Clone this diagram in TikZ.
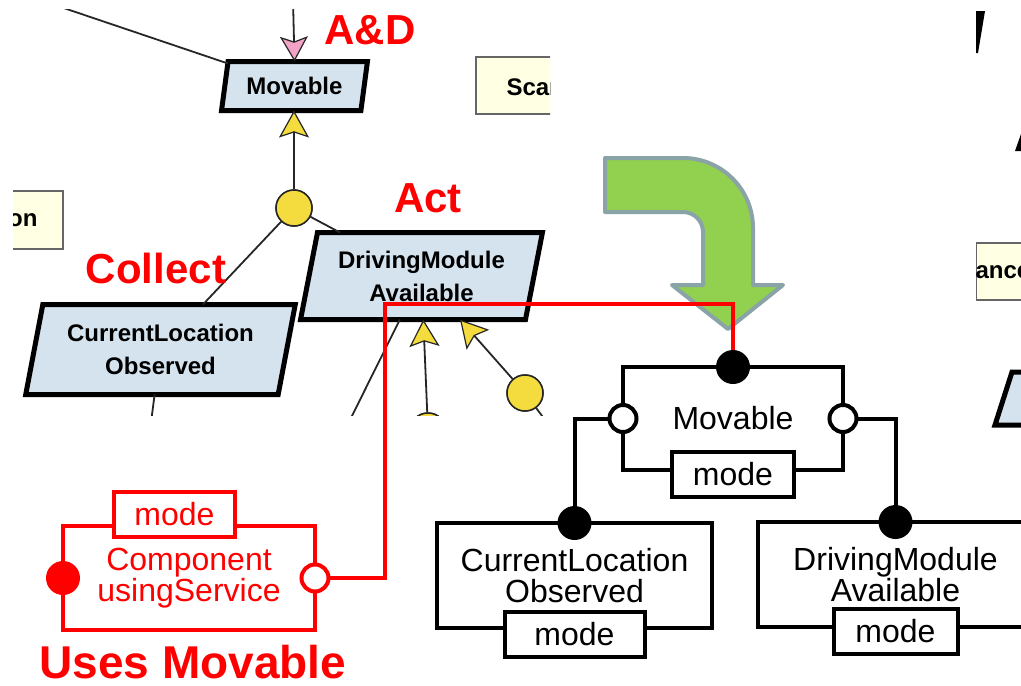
\documentclass[tikz,border=0pt]{standalone}
\usepackage{fontspec}
\setmainfont{Liberation Sans}
\usetikzlibrary{positioning,shapes.geometric,arrows.meta}
\definecolor{pblue}{HTML}{D5E3EE}
\definecolor{ylw}{HTML}{F4DC3F}
\definecolor{pnk}{HTML}{F4A3C6}
\definecolor{lyel}{HTML}{FFFFE3}
\definecolor{grn}{HTML}{92D050}
\definecolor{grnline}{HTML}{8AA3A6}
\begin{document}
\begin{tikzpicture}[x=1pt,y=-1pt,node distance=20pt]
\tikzstyle{para}=[trapezium,trapezium left angle=75,trapezium right angle=105,trapezium stretches=true,
  draw=black,line width=5pt,fill=pblue,align=center,inner sep=0pt,outer sep=0pt,
  font=\bfseries\fontsize{24}{33}\selectfont]
\tikzstyle{ball}=[circle,draw=black!85,line width=1.5pt,fill=ylw,minimum size=36pt,inner sep=0pt]
\tikzstyle{shot}=[draw=black!85,line width=1.8pt]
\tikzstyle{yarrow}=[-{Stealth[length=27pt,width=30pt,inset=5pt,fill=ylw,line width=1.2pt]}]
\tikzstyle{notebox}=[draw=black!60,line width=2pt,fill=lyel]
\tikzstyle{shottext}=[font=\bfseries\fontsize{24}{24}\selectfont]
\tikzstyle{note}=[text=red,font=\bfseries\fontsize{42}{42}\selectfont]
\tikzstyle{comp}=[draw,line width=4pt,align=center,inner sep=0pt,outer sep=0pt,font=\fontsize{32}{31}\selectfont]
\tikzstyle{modebox}=[draw,fill=white,line width=4pt,minimum height=45pt,inner sep=0pt,outer sep=0pt,font=\fontsize{32}{32}\selectfont]
\tikzstyle{plug}=[circle,fill,inner sep=0pt,minimum size=34pt]
\tikzstyle{socket}=[circle,draw,fill=white,line width=4pt,inner sep=0pt,minimum size=27pt]
\tikzstyle{wire}=[line width=4pt]
\useasboundingbox (0,0) rectangle (1021,686);

% screenshot on the left
\begin{scope}
\clip (13,9) rectangle (550,415);
\draw[notebox] (-20,191) rectangle (63,249);
\node[shottext,anchor=east] (on) at (41,220) {on};
\draw[notebox] (476,57) rectangle (600,114);
\node[shottext,anchor=west] (scan) at (503,87) {Scan};
\node[para,minimum width=146pt,minimum height=49pt] (movA) at (294.5,86) {Movable};
\node[para,minimum width=242pt,minimum height=87pt] (dmA) at (421.5,276) {DrivingModule\\Available};
\node[para,minimum width=270pt,minimum height=90pt] (clA) at (160.5,349.5) {CurrentLocation\\Observed};
\node[ball] (ballA) at (294,208) {};
\node[ball] (ballB) at (525,393) {};
\node[ball] (ballC) at (428,431) {};
\coordinate (tl) at (40,0);
\coordinate (top) at (293,0);
\coordinate (cllo) at (150,430);
\coordinate (dmlo) at (345,430);
\coordinate (blo) at (560,440);
\draw[shot] (tl) -- (movA);
\draw[shot,-{Stealth[length=25pt,width=28pt,inset=5pt,fill=pnk,line width=1.2pt]}] (top) -- (movA.north);
\draw[shot,yarrow] (ballA) -- (ballA |- movA.south);
\draw[shot] (ballA) -- (clA);
\draw[shot] (ballA) -- (dmA);
\draw[shot] (clA) -- (cllo);
\draw[shot] (dmA) -- (dmlo);
\draw[shot,yarrow] (ballC) -- (dmA);
\draw[shot,yarrow] (ballB) -- (dmA);
\draw[shot] (ballB) -- (blo);
\node[ball] at (ballA) {};
\node[ball] at (ballB) {};
\node[ball] at (ballC) {};
\end{scope}

% pieces on the right
\begin{scope}
\clip (976,0) rectangle (1021,440);
\fill (976,11) -- (985,11) -- (978,53) -- (976,53) -- cycle;
\fill (1015,151) -- (1021,134) -- (1021,151) -- cycle;
\draw[notebox] (976,243) rectangle (1100,300);
\node[shottext,anchor=west] (ance) at (972,272) {ance};
\draw[line width=5pt,fill=pblue] (995,425) -- (1012,372) -- (1100,372) -- (1083,425) -- cycle;
\end{scope}

\node[note] (ad) at (370,30) {A\&D};
\node[note] (act) at (428,198) {Act};
\node[note] (collect) at (156,268) {Collect};
\node[note,font=\bfseries\fontsize{46}{46}\selectfont] (uses) at (193,662) {Uses Movable};

% green arrow
\filldraw[fill=grn,draw=grnline,line width=4pt,line join=round]
  (605,158) -- (683,158) arc[start angle=90,end angle=0,radius=70pt] -- (753,285) -- (783,285)
  -- (728,329) -- (672,285) -- (703,285) -- (703,232) arc[start angle=0,end angle=90,radius=20pt]
  -- (605,212) -- cycle;

% components
\node[comp,minimum width=220pt,minimum height=103pt] (mov) at (733,418.5) {Movable};
\node[modebox,minimum width=122pt,below=-18pt of mov] (movmode) {mode};
\node[comp,minimum width=275pt,minimum height=105pt] (clc) at (574.5,575.5) {CurrentLocation\\Observed};
\node[modebox,minimum width=140pt,below=-16pt of clc] (clmode) {mode};
\node[comp,minimum width=275pt,minimum height=105pt] (dmc) at (895.5,574.5) {DrivingModule\\Available};
\node[modebox,minimum width=124pt,below=-18pt of dmc] (dmmode) {mode};
\node[comp,draw=red,text=red,minimum width=252pt,minimum height=104pt] (ucomp) at (189,578) {Component\\usingService};
\node[modebox,draw=red,text=red,minimum width=121pt,above=-11pt of ucomp,xshift=-14.5pt] (umode) {mode};

\coordinate (bend) at (385,304);
\draw[wire] (mov.west) -| (clc.north);
\draw[wire] (mov.east) -| (dmc.north);
\draw[wire,red] (ucomp.east) -| (bend) -| (mov.north);

\node[plug] (movplug) at (mov.north) {};
\node[socket] (lsock) at (mov.west) {};
\node[socket] (rsock) at (mov.east) {};
\node[plug] (clplug) at (clc.north) {};
\node[plug] (dmplug) at (dmc.north) {};
\node[plug,fill=red] (uplug) at (ucomp.west) {};
\node[socket,draw=red] (usock) at (ucomp.east) {};
\end{tikzpicture}
\end{document}
